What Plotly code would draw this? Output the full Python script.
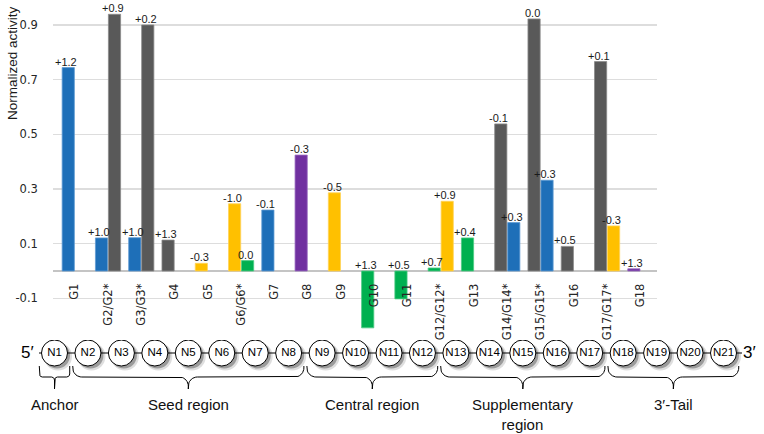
import numpy as np
import plotly.graph_objects as go

# ---------------- data ----------------
categories = ["G1", "G2/G2*", "G3/G3*", "G4", "G5", "G6/G6*", "G7", "G8", "G9",
              "G10", "G11", "G12/G12*", "G13", "G14/G14*", "G15/G15*", "G16",
              "G17/G17*", "G18"]

first_values = [0.744, 0.121, 0.122, 0.113, 0.028, 0.246, 0.223, 0.424, 0.286,
                -0.208, -0.102, 0.011, 0.121, 0.538, 0.922, 0.090, 0.766, 0.008]
first_kind = ["b", "b", "b", "k", "y", "y", "b", "p", "y",
              "g", "g", "g", "g", "k", "k", "k", "k", "p"]
first_labels = ["+1.2", "+1.0", "+1.0", "+1.3", "-0.3", "-1.0", "-0.1", "-0.3", "-0.5",
                "+1.3", "+0.5", "+0.7", "+0.4", "-0.1", "0.0", "+0.5", "+0.1", "+1.3"]

second_values = [None, 0.939, 0.900, None, None, 0.038, None, None, None,
                 None, None, 0.255, None, 0.177, 0.332, None, 0.165, None]
second_kind = [None, "k", "k", None, None, "g", None, None, None,
               None, None, "y", None, "b", "b", None, "y", None]
second_labels = [None, "+0.9", "+0.2", None, None, "0.0", None, None, None,
                 None, None, "+0.9", None, "+0.3", "+0.3", None, "-0.3", None]

y_tick_values = [-0.1, 0.1, 0.3, 0.5, 0.7, 0.9]
y_tick_labels = ["-0.1", "0.1", "0.3", "0.5", "0.7", "0.9"]

nodes = [f"N{i}" for i in range(1, 22)]
regions = ["Anchor", "Seed region", "Central region", "Supplementary<br>region", "3\u2032-Tail"]
region_start = [1, 2, 9, 13, 18]
region_end = [1, 8, 12, 17, 21]

# ---------------- style ----------------
KIND_COLORS = {"b": "#1E6FB8", "k": "#595959", "y": "#FFC000", "g": "#00B050", "p": "#7030A0"}
KIND_EDGES = {"b": "#5E9BD3", "k": "#8A8A8A", "y": "#FFD35A", "g": "#4CCB84", "p": "#9A6CC2"}
W, H = 764, 434
PLOT_L, PLOT_R = 53.2, 657.0          # px of the bar plot area
ZERO_PX, PX_PER_UNIT = 271.0, 273.4
Y_RANGE = [-0.25, 0.97]
BARGAP, BARGROUPGAP = 0.22, 0.06

NODE0_PX, NODE_STEP = 54.5, 33.45     # diagram horizontal scale
ROW_PX = 353.0                          # diagram row (y=0)
DIAG_TOP_PX = 340.0

TICK_FONT = dict(family="DejaVu Sans", size=11.5, color="#262626")
LABEL_FONT = dict(family="Liberation Sans", size=11, color="#1a1a1a")
DIAG_FONT = dict(family="Liberation Sans", size=15, color="#111111")

fig = go.Figure()

fig.add_trace(go.Bar(x=categories, y=first_values,
                     marker=dict(color=[KIND_COLORS[k] for k in first_kind],
                                 line=dict(color=[KIND_EDGES[k] for k in first_kind], width=0.8)),
                     xaxis="x", yaxis="y", showlegend=False, hoverinfo="skip"))
fig.add_trace(go.Bar(x=categories, y=second_values,
                     marker=dict(color=[KIND_COLORS[k] if k else "rgba(0,0,0,0)" for k in second_kind],
                                 line=dict(color=[KIND_EDGES[k] if k else "rgba(0,0,0,0)"
                                                  for k in second_kind], width=0.8)),
                     xaxis="x", yaxis="y", showlegend=False, hoverinfo="skip"))

# value labels above bars (at zero line for negative bars)
cat_px = (PLOT_R - PLOT_L) / len(categories)
slot_off = (1 - BARGAP) * cat_px / 4
annotations = []
for vals, labs, sign in ((first_values, first_labels, -1), (second_values, second_labels, 1)):
    for c, v, t in zip(categories, vals, labs):
        if v is None or t is None:
            continue
        annotations.append(dict(x=c, y=max(v, 0), xref="x", yref="y", text=t,
                                showarrow=False, yanchor="bottom", xanchor="center",
                                xshift=sign * slot_off - 2, yshift=-2, font=LABEL_FONT))

# y-axis title
annotations.append(dict(x=12.5 / W, y=1 - 63.5 / H, xref="paper", yref="paper",
                        xanchor="center", yanchor="middle",
                        text="Normalized activity", textangle=-90, showarrow=False,
                        font=dict(family="Liberation Sans", size=13.5, color="#1a1a1a")))

# ---------------- diagram ----------------
node_x = np.arange(1, len(nodes) + 1)
to_x = lambda px: 1 + (px - NODE0_PX) / NODE_STEP   # px -> diagram x units
line_x = [to_x(39), to_x(742)]
fig.add_trace(go.Scatter(x=line_x, y=[0, 0], mode="lines", line=dict(color="black", width=1),
                         xaxis="x2", yaxis="y2", showlegend=False, hoverinfo="skip"))
# soft shadows
fig.add_trace(go.Scatter(x=node_x + 3.5 / NODE_STEP, y=np.full(len(nodes), -3.5), mode="markers",
                         marker=dict(size=28, color="rgba(0,0,0,0.13)", line_width=0),
                         xaxis="x2", yaxis="y2", showlegend=False, hoverinfo="skip"))
fig.add_trace(go.Scatter(x=node_x + 2.5 / NODE_STEP, y=np.full(len(nodes), -2.5), mode="markers",
                         marker=dict(size=26, color="rgba(0,0,0,0.30)", line_width=0),
                         xaxis="x2", yaxis="y2", showlegend=False, hoverinfo="skip"))
fig.add_trace(go.Scatter(x=node_x, y=np.zeros(len(nodes)), mode="markers+text", text=nodes,
                         textposition="middle center",
                         textfont=dict(family="Liberation Sans", size=11.5, color="black"),
                         marker=dict(size=26, color="white", line=dict(color="black", width=1)),
                         xaxis="x2", yaxis="y2", showlegend=False, hoverinfo="skip"))


def brace(x0, x1, r, yt=-13.0, ym=-24.0, yb=-36.0):
    """curly brace path in px-x / diagram-y units"""
    xc = (x0 + x1) / 2
    xs, ys = [x0], [yt]
    def arc(cx, cy, a0, a1):
        a = np.linspace(np.radians(a0), np.radians(a1), 10)
        xs.extend(cx + r * np.cos(a)); ys.extend(cy + r * np.sin(a))
    arc(x0 + r, ym + r, 180, 270)
    arc(xc - r, ym - r, 90, 0)
    xs.append(xc); ys.append(yb)
    xs.append(xc); ys.append(ym - r)
    arc(xc + r, ym - r, 180, 90)
    arc(x1 - r, ym + r, 270, 360)
    xs.append(x1); ys.append(yt)
    return [to_x(v) for v in xs], ys


for name, s, e in zip(regions, region_start, region_end):
    x0 = NODE0_PX + (s - 1.5) * NODE_STEP + 1.5
    x1 = NODE0_PX + (e - 0.5) * NODE_STEP - 1.5
    r = 3.0 if e == s else 9.0
    bx, by = brace(x0, x1, r)
    fig.add_trace(go.Scatter(x=bx, y=by, mode="lines", line=dict(color="black", width=1),
                             xaxis="x2", yaxis="y2", showlegend=False, hoverinfo="skip"))
    annotations.append(dict(x=to_x((x0 + x1) / 2), y=-41, xref="x2", yref="y2", text=name,
                            showarrow=False, yanchor="top", font=DIAG_FONT))

annotations.append(dict(x=to_x(27), y=1, xref="x2", yref="y2", text="5\u2032", showarrow=False,
                        font=dict(family="Liberation Sans", size=17, color="black")))
annotations.append(dict(x=to_x(749), y=1, xref="x2", yref="y2", text="3\u2032", showarrow=False,
                        font=dict(family="Liberation Sans", size=17, color="black")))

# ---------------- layout ----------------
y_dom = [1 - (ZERO_PX - Y_RANGE[0] * PX_PER_UNIT) / H, 1 - (ZERO_PX - Y_RANGE[1] * PX_PER_UNIT) / H]
fig.update_layout(
    width=W, height=H, margin=dict(l=0, r=0, t=0, b=0, pad=0), autosize=False,
    paper_bgcolor="white", plot_bgcolor="rgba(0,0,0,0)",
    barmode="group", bargap=BARGAP, bargroupgap=BARGROUPGAP,
    xaxis=dict(domain=[PLOT_L / W, PLOT_R / W], type="category", anchor="free",
               position=1 - ZERO_PX / H, tickangle=-90, showgrid=False, showline=False,
               zeroline=False, ticks="outside", ticklen=7, tickcolor="rgba(0,0,0,0)",
               tickfont=TICK_FONT, fixedrange=True, automargin=False),
    yaxis=dict(domain=y_dom, range=Y_RANGE, tickvals=y_tick_values, ticktext=y_tick_labels,
               showgrid=True, gridcolor="#DDDDDD", gridwidth=1.5, zeroline=True,
               zerolinecolor="#C4C4C4", zerolinewidth=1.5, showline=False, ticks="outside",
               ticklen=12, tickcolor="rgba(0,0,0,0)", tickfont=TICK_FONT, fixedrange=True,
               automargin=False),
    xaxis2=dict(domain=[0, 1], range=[to_x(0), to_x(W)], visible=False, anchor="y2",
                fixedrange=True, automargin=False),
    yaxis2=dict(domain=[0, 1 - DIAG_TOP_PX / H], range=[ROW_PX - H, ROW_PX - DIAG_TOP_PX],
                visible=False, anchor="x2", fixedrange=True, automargin=False),
    annotations=annotations,
)

fig.write_html("out.html", config={"displayModeBar": False, "staticPlot": True},
               post_script="document.body.style.margin='0';document.body.style.overflow='hidden';")
